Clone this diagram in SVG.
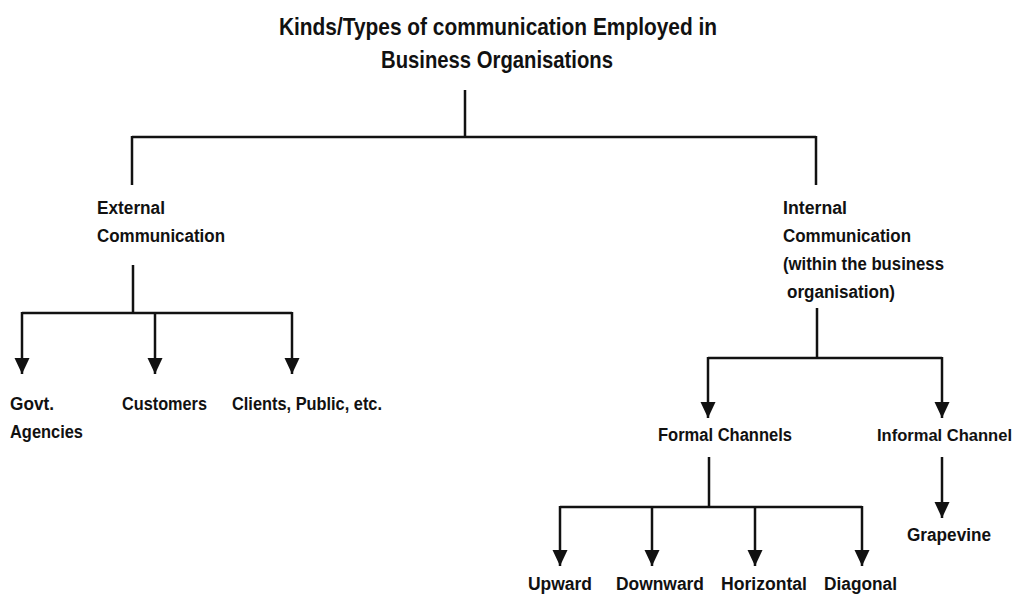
<svg xmlns="http://www.w3.org/2000/svg" width="1020" height="596" viewBox="0 0 1020 596">
<defs>
<style>
text{font-family:"Liberation Sans",Arial,sans-serif;font-weight:bold;fill:#111;font-size:18px}
.title{font-size:24px}
.sm{font-size:17px}
.ln{stroke:#111;stroke-width:2.5;fill:none}
</style>
<marker id="ah" markerUnits="userSpaceOnUse" markerWidth="17" markerHeight="16" refX="16" refY="7.5" orient="auto">
<path d="M0,0 L16,7.5 L0,15 z" fill="#111"/>
</marker>
</defs>
<rect width="1020" height="596" fill="#fff"/>
<g id="title">
<text class="title" x="498" y="35" text-anchor="middle" textLength="438" lengthAdjust="spacingAndGlyphs">Kinds/Types of communication Employed in</text>
<text class="title" x="497" y="68" text-anchor="middle" textLength="232" lengthAdjust="spacingAndGlyphs">Business Organisations</text>
</g>
<g id="external">
<text x="97" y="214" textLength="68" lengthAdjust="spacingAndGlyphs">External</text>
<text x="97" y="242" textLength="128" lengthAdjust="spacingAndGlyphs">Communication</text>
</g>
<g id="internal">
<text x="783" y="214" textLength="64" lengthAdjust="spacingAndGlyphs">Internal</text>
<text x="783" y="242" textLength="128" lengthAdjust="spacingAndGlyphs">Communication</text>
<text x="783" y="270" textLength="161" lengthAdjust="spacingAndGlyphs">(within the business</text>
<text x="787" y="298" textLength="108" lengthAdjust="spacingAndGlyphs">organisation)</text>
</g>
<g id="govt">
<text x="10" y="410" textLength="44" lengthAdjust="spacingAndGlyphs">Govt.</text>
<text x="10" y="438" textLength="73" lengthAdjust="spacingAndGlyphs">Agencies</text>
</g>
<g id="customers"><text x="122" y="410" textLength="85" lengthAdjust="spacingAndGlyphs">Customers</text></g>
<g id="clients"><text x="232" y="410" textLength="150" lengthAdjust="spacingAndGlyphs">Clients, Public, etc.</text></g>
<g id="formal"><text x="658" y="441" textLength="134" lengthAdjust="spacingAndGlyphs">Formal Channels</text></g>
<g id="informal"><text class="sm" x="877" y="441" textLength="135" lengthAdjust="spacingAndGlyphs">Informal Channel</text></g>
<g id="grapevine"><text x="907" y="541" textLength="84" lengthAdjust="spacingAndGlyphs">Grapevine</text></g>
<g id="upward"><text x="528" y="590" textLength="64" lengthAdjust="spacingAndGlyphs">Upward</text></g>
<g id="downward"><text x="616" y="590" textLength="88" lengthAdjust="spacingAndGlyphs">Downward</text></g>
<g id="horizontal"><text x="721" y="590" textLength="86" lengthAdjust="spacingAndGlyphs">Horizontal</text></g>
<g id="diagonal"><text x="824" y="590" textLength="73" lengthAdjust="spacingAndGlyphs">Diagonal</text></g>
<g id="connectors" class="ln">
<path class="ln" d="M465,90 V137 M132,137 H816 M132,136 V185 M816,136 V185"/>
<path class="ln" d="M133,265 V313 M22,313 H292"/>
<path class="ln" d="M22,312 V374" marker-end="url(#ah)"/>
<path class="ln" d="M155,312 V374" marker-end="url(#ah)"/>
<path class="ln" d="M292,312 V374" marker-end="url(#ah)"/>
<path class="ln" d="M817,308 V358 M708,358 H942"/>
<path class="ln" d="M708,357 V418" marker-end="url(#ah)"/>
<path class="ln" d="M942,357 V418" marker-end="url(#ah)"/>
<path class="ln" d="M709,457 V507 M560,507 H862"/>
<path class="ln" d="M560,506 V566" marker-end="url(#ah)"/>
<path class="ln" d="M652,506 V566" marker-end="url(#ah)"/>
<path class="ln" d="M755,506 V566" marker-end="url(#ah)"/>
<path class="ln" d="M862,506 V566" marker-end="url(#ah)"/>
<path class="ln" d="M942,457 V518" marker-end="url(#ah)"/>
</g>
</svg>
